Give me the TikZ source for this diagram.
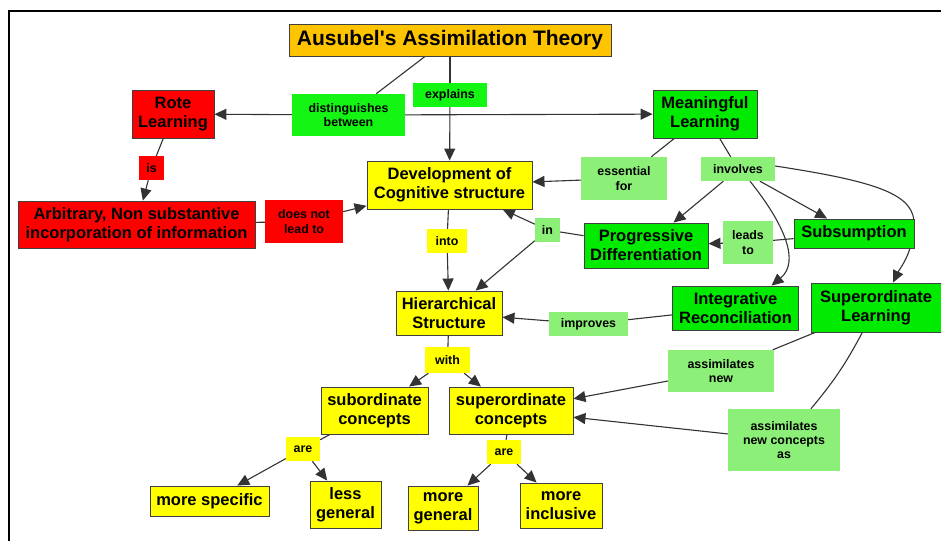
\documentclass[tikz,border=0pt]{standalone}
\usepackage{fontspec}
\setmainfont{Liberation Sans}[Ligatures=TeXOff]
\usetikzlibrary{arrows.meta}
\pgfdeclarelayer{paper}
\pgfdeclarelayer{edges}
\pgfsetlayers{paper,edges,main}

\definecolor{titleorange}{RGB}{255,196,0}
\definecolor{cyellow}{RGB}{255,255,0}
\definecolor{cred}{RGB}{255,0,0}
\definecolor{cgreen}{RGB}{0,235,0}
\definecolor{lbright}{RGB}{20,245,20}
\definecolor{lpale}{RGB}{140,240,120}

\tikzset{
  concept/.style={draw=black!75, line width=0.9pt, align=center, inner sep=0pt,
    font=\bfseries\fontsize{16.5}{19}\selectfont, text=black},
  linkbox/.style={align=center, inner sep=0pt,
    font=\bfseries\fontsize{12.4}{14.2}\selectfont, text=black},
  box/.style 2 args={minimum width=#1pt, minimum height=#2pt},
  conn/.style={draw=black!80, line width=1.1pt},
  arr/.style={conn, -{Triangle[length=12pt,width=11pt]}},
}

\begin{document}
\begin{tikzpicture}[x=1pt,y=-1pt]
\useasboundingbox (0,0) rectangle (941,541);
\begin{pgfonlayer}{paper}
\fill[white] (0,0) rectangle (941,541);
% outer frame
\draw[line width=2pt] (9,541) -- (9,11) -- (941,11);
\end{pgfonlayer}

% title
\node[concept, fill=titleorange, box={322}{32}, font=\bfseries\fontsize{21}{24}\selectfont]
  (title) at (450,40) {Ausubel's Assimilation Theory};

% concepts
\node[concept, fill=cred, box={82}{48}] (rote) at (173,114) {Rote\\Learning};
\node[concept, fill=cred, box={237}{47}] (arb) at (136.5,224.5)
  {Arbitrary, Non substantive\\incorporation of information};
\node[concept, fill=cgreen, box={104}{48}] (mean) at (705,114) {Meaningful\\Learning};
\node[concept, fill=cyellow, box={165}{48}] (dev) at (449.5,185) {Development of\\Cognitive structure};
\node[concept, fill=cgreen, box={124}{45}] (prog) at (646,245.5) {Progressive\\Differentiation};
\node[concept, fill=cgreen, box={120}{29}] (subs) at (854,233.5) {Subsumption};
\node[concept, fill=cgreen, box={126}{44}] (integ) at (735.5,308) {Integrative\\Reconciliation};
\node[concept, fill=cgreen, box={130}{49}] (superL) at (876,307.5) {Superordinate\\Learning};
\node[concept, fill=cyellow, box={106}{44}] (hier) at (449,313) {Hierarchical\\Structure};
\node[concept, fill=cyellow, box={107}{47}] (subc) at (374.5,410.5) {subordinate\\concepts};
\node[concept, fill=cyellow, box={124}{47}] (supc) at (511,410.5) {superordinate\\concepts};
\node[concept, fill=cyellow, box={119}{30}] (mspec) at (209.5,501) {more specific};
\node[concept, fill=cyellow, box={71}{47}] (lessg) at (345.5,504.5) {less\\general};
\node[concept, fill=cyellow, box={70}{44}] (moreg) at (443,508) {more\\general};
\node[concept, fill=cyellow, box={82}{45}] (moreinc) at (561,505.5) {more\\inclusive};

% linking phrases
\node[linkbox, fill=lbright, box={113}{42}] (dist) at (348.5,115) {distinguishes\\between};
\node[linkbox, fill=lbright, box={74}{24}] (expl) at (450,95) {explains};
\node[linkbox, fill=cred, box={25}{24}] (is) at (151.5,168) {is};
\node[linkbox, fill=cred, box={78}{43}] (dnl) at (304,221.5) {does not\\lead to};
\node[linkbox, fill=lpale, box={86}{43}] (ess) at (624,178.5) {essential\\for};
\node[linkbox, fill=lpale, box={74}{24}] (inv) at (738,169) {involves};
\node[linkbox, fill=lpale, box={25}{24}] (in) at (547.5,230) {in};
\node[linkbox, fill=lpale, box={50}{43}] (leads) at (748,242.5) {leads\\to};
\node[linkbox, fill=cyellow, box={40}{24}] (into) at (447,241) {into};
\node[linkbox, fill=lpale, box={79}{24}] (impr) at (588.5,324) {improves};
\node[linkbox, fill=cyellow, box={45}{26}] (with) at (447.5,360) {with};
\node[linkbox, fill=cyellow, box={34}{24}] (are1) at (303,449) {are};
\node[linkbox, fill=cyellow, box={34}{24}] (are2) at (504,452) {are};
\node[linkbox, fill=lpale, box={106}{42}] (asn) at (721,371) {assimilates\\new};
\node[linkbox, fill=lpale, box={112}{62}] (asnca) at (784,440) {assimilates\\new concepts\\as};

% connectors
\begin{pgfonlayer}{edges}
\draw[conn] ([xshift=-25pt]title.south) -- (dist);
\draw[conn] (title) -- (expl);
\draw[arr] (expl) -- (dev);
\draw[arr] (dist) -- (rote);
\draw[arr] (dist) -- (mean);
\draw[conn] (rote) -- (is);
\draw[arr] (is) -- (arb);
\draw[conn] (arb) -- (dnl);
\draw[arr] (dnl) -- (dev);
\draw[conn] (mean) -- (ess);
\draw[arr] (ess) -- (dev);
\draw[conn] (mean) -- (inv);
\draw[arr] (inv) -- (prog);
\draw[arr] (inv) -- (subs);
\draw[arr] ([xshift=12pt]inv.south) .. controls (785,225) and (800,262) .. ([xshift=36pt]integ.north);
\draw[arr] ([yshift=3pt]inv.east) .. controls (880,182) and (916,195) .. (914,226)
  .. controls (912,255) and (900,268) .. ([xshift=17pt]superL.north);
\draw[conn] (subs) -- (leads);
\draw[arr] (leads) -- (prog);
\draw[conn] (prog) -- (in);
\draw[arr] (in) -- (dev);
\draw[arr] (in) -- (hier);
\draw[conn] (dev) -- (into);
\draw[arr] (into) -- (hier);
\draw[conn] (integ) -- (impr);
\draw[arr] (impr) -- (hier);
\draw[conn] (hier) -- (with);
\draw[arr] (with) -- (subc);
\draw[arr] (with) -- (supc);
\draw[conn] (subc) -- (are1);
\draw[arr] (are1) -- (mspec);
\draw[arr] (are1) -- (lessg);
\draw[conn] (supc) -- (are2);
\draw[arr] (are2) -- (moreg);
\draw[arr] (are2) -- (moreinc);
\draw[conn] (superL) -- (asn);
\draw[arr] (asn) -- (supc);
\draw[conn] (superL) to[bend left=6] (asnca);
\draw[arr] (asnca) -- (supc);
\end{pgfonlayer}
\end{tikzpicture}
\end{document}
